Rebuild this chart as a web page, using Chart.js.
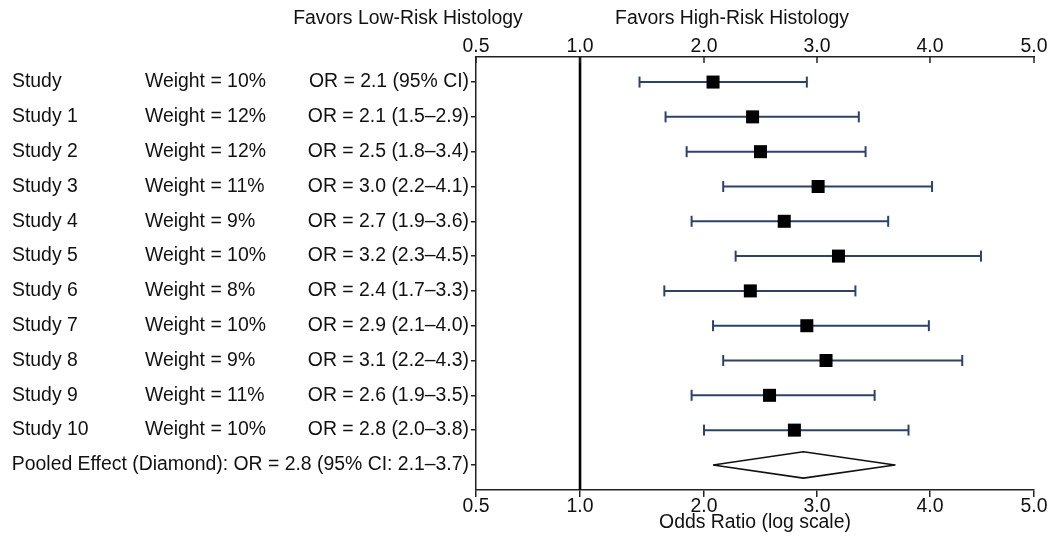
<!DOCTYPE html>
<html>
<head>
<meta charset="utf-8">
<script src="https://cdn.jsdelivr.net/npm/chart.js@4.4.0/dist/chart.umd.min.js"></script>
<style>
  html, body { margin: 0; padding: 0; background: #fff; }
  #wrap { width: 1051px; height: 546px; position: relative; }
</style>
</head>
<body>
<div id="wrap"><canvas id="forest"></canvas></div>
<script>
// data
const studyNames = ['Study', 'Study 1', 'Study 2', 'Study 3', 'Study 4', 'Study 5',
  'Study 6', 'Study 7', 'Study 8', 'Study 9', 'Study 10'];
const weights = ['Weight = 10%', 'Weight = 12%', 'Weight = 12%', 'Weight = 11%', 'Weight = 9%',
  'Weight = 10%', 'Weight = 8%', 'Weight = 10%', 'Weight = 9%', 'Weight = 11%', 'Weight = 10%'];
const orLabels = ['OR = 2.1 (95% CI)', 'OR = 2.1 (1.5–2.9)', 'OR = 2.5 (1.8–3.4)', 'OR = 3.0 (2.2–4.1)',
  'OR = 2.7 (1.9–3.6)', 'OR = 3.2 (2.3–4.5)', 'OR = 2.4 (1.7–3.3)', 'OR = 2.9 (2.1–4.0)',
  'OR = 3.1 (2.2–4.3)', 'OR = 2.6 (1.9–3.5)', 'OR = 2.8 (2.0–3.8)'];
const pooledLabel = 'Pooled Effect (Diamond): OR = 2.8 (95% CI: 2.1–3.7)';

const orValues = [2.08, 2.43, 2.50, 3.01, 2.71, 3.19, 2.41, 2.91, 3.08, 2.58, 2.80];
const ciLow    = [1.48, 1.69, 1.86, 2.17, 1.90, 2.28, 1.68, 2.08, 2.17, 1.90, 2.00];
const ciHigh   = [2.91, 3.37, 3.43, 4.02, 3.63, 4.49, 3.34, 3.99, 4.31, 3.51, 3.81];

const pooledOR = 2.88;
const pooledLow = 2.08;
const pooledHigh = 3.69;

const tickValues = [0.5, 1, 2, 3, 4, 5];
const tickLabels = ['0.5', '1.0', '2.0', '3.0', '4.0', '5.0'];

const headerLeft = 'Favors Low-Risk Histology';
const headerRight = 'Favors High-Risk Histology';
const axisTitle = 'Odds Ratio (log scale)';

// where each tick sits along the axis (the original spaces them unevenly)
const tickFractions = [0, 0.1864, 0.4086, 0.6111, 0.8136, 1];

const navy = '#2d4268';
const FONT = '"Liberation Sans", Arial, sans-serif';
const FONT_SIZE = 19.4;
const pooledRow = studyNames.length;
const yMin = -0.72, yMax = pooledRow + 0.72;
const diamondHalf = 0.38;

// piecewise axis: linear between neighbouring ticks
class PiecewiseScale extends Chart.LinearScale {
  static id = 'piecewise';
  static defaults = {};
  buildTicks() {
    return tickValues.map(v => ({ value: v }));
  }
  getPixelForValue(value) {
    let i = 0;
    while (i < tickValues.length - 2 && value > tickValues[i + 1]) i++;
    const t = (value - tickValues[i]) / (tickValues[i + 1] - tickValues[i]);
    const d = tickFractions[i] + t * (tickFractions[i + 1] - tickFractions[i]);
    return this.getPixelForDecimal(d);
  }
  getValueForPixel(pixel) {
    const d = this.getDecimalForPixel(pixel);
    let i = 0;
    while (i < tickFractions.length - 2 && d > tickFractions[i + 1]) i++;
    const t = (d - tickFractions[i]) / (tickFractions[i + 1] - tickFractions[i]);
    return tickValues[i] + t * (tickValues[i + 1] - tickValues[i]);
  }
}
Chart.register(PiecewiseScale);

const sideText = {
  id: 'sideText',
  afterDraw(chart) {
    const { ctx } = chart;
    const y = chart.scales.y;
    const top = chart.scales.x2;
    ctx.save();
    // top axis ticks point into the plot
    ctx.strokeStyle = '#222';
    ctx.lineWidth = 1.5;
    tickValues.forEach(v => {
      const px = top.getPixelForValue(v);
      ctx.beginPath();
      ctx.moveTo(px, top.bottom);
      ctx.lineTo(px, top.bottom + 6);
      ctx.stroke();
    });
    ctx.font = FONT_SIZE + 'px ' + FONT;
    ctx.fillStyle = '#111';
    ctx.textBaseline = 'middle';
    ctx.textAlign = 'left';
    studyNames.forEach((name, i) => {
      const py = y.getPixelForValue(i);
      ctx.fillText(name, 12, py);
      ctx.fillText(weights[i], 145, py);
    });
    ctx.textAlign = 'center';
    ctx.fillText(headerLeft, 408, 19);
    ctx.fillText(headerRight, 732, 19);
    ctx.restore();
  }
};

const whiskers = orValues.map((v, i) => ({
  data: [{ x: ciLow[i], y: i }, { x: ciHigh[i], y: i }],
  borderColor: navy,
  borderWidth: 2,
  pointStyle: 'line',
  pointRotation: 90,
  pointRadius: 5.5,
  pointBorderWidth: 2,
  pointBorderColor: navy,
  order: 2
}));

const datasets = [
  {
    data: orValues.map((v, i) => ({ x: v, y: i })),
    showLine: false,
    pointStyle: 'rect',
    pointRadius: 9.2,
    pointBackgroundColor: '#000',
    pointBorderWidth: 0,
    order: 0
  },
  ...whiskers,
  {
    data: [
      { x: pooledLow, y: pooledRow },
      { x: pooledOR, y: pooledRow - diamondHalf },
      { x: pooledHigh, y: pooledRow },
      { x: pooledOR, y: pooledRow + diamondHalf },
      { x: pooledLow, y: pooledRow }
    ],
    borderColor: '#111',
    borderWidth: 1.6,
    borderJoinStyle: 'round',
    pointRadius: 0,
    order: 1
  },
  {
    data: [{ x: 1, y: yMin }, { x: 1, y: yMax }],
    borderColor: '#000',
    borderWidth: 2.6,
    pointRadius: 0,
    order: 3
  }
];

const tickFont = { family: FONT, size: FONT_SIZE, lineHeight: 1 };

new Chart(document.getElementById('forest'), {
  type: 'line',
  data: { datasets },
  options: {
    responsive: true,
    maintainAspectRatio: false,
    animation: false,
    layout: { padding: { left: 0, right: 17, top: 0, bottom: 0 } },
    plugins: { legend: { display: false }, tooltip: { enabled: false } },
    scales: {
      x: {
        type: 'piecewise',
        position: 'bottom',
        min: 0.5,
        max: 5,
        border: { display: true, color: '#222', width: 1.5 },
        grid: { drawOnChartArea: false, color: '#222', lineWidth: 1.5, tickLength: 7 },
        ticks: {
          autoSkip: false, maxRotation: 0, color: '#111', font: tickFont, padding: 0,
          callback: (v, i) => tickLabels[i]
        },
        title: {
          display: true, text: axisTitle, color: '#111',
          font: { family: FONT, size: FONT_SIZE }, padding: { top: 0, bottom: 12 }
        },
        afterFit: s => { s.height = 56; }
      },
      x2: {
        type: 'piecewise',
        position: 'top',
        min: 0.5,
        max: 5,
        border: { display: true, color: '#222', width: 1.5 },
        grid: { display: false, drawTicks: false, tickLength: 0 },
        ticks: {
          autoSkip: false, maxRotation: 0, color: '#111', font: tickFont, padding: 1,
          callback: (v, i) => tickLabels[i]
        },
        afterFit: s => { s.height = 57; }
      },
      y: {
        type: 'linear',
        reverse: true,
        min: yMin,
        max: yMax,
        border: { display: true, color: '#222', width: 1.5 },
        grid: { drawOnChartArea: false, color: '#222', lineWidth: 1.5, tickLength: 5 },
        afterBuildTicks: s => {
          s.ticks = studyNames.map((n, i) => ({ value: i })).concat([{ value: pooledRow }]);
        },
        ticks: {
          autoSkip: false, color: '#111', font: tickFont, padding: 2,
          callback: v => (v === pooledRow ? pooledLabel : orLabels[v])
        },
        afterFit: s => { s.width = 476; }
      }
    }
  },
  plugins: [sideText]
});
</script>
</body>
</html>
